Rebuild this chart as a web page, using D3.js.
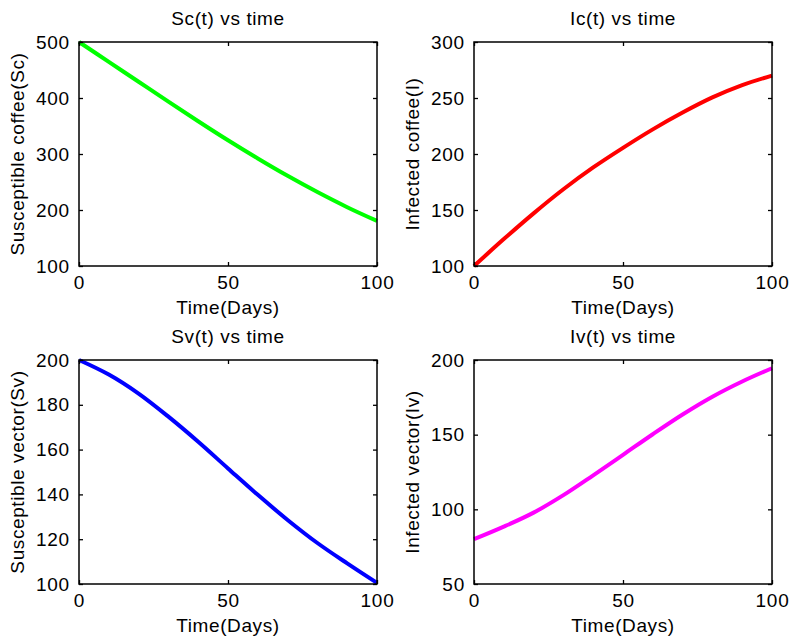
<!DOCTYPE html>
<html>
<head>
<meta charset="utf-8">
<script src="https://cdn.jsdelivr.net/npm/d3@7"></script>
<style>
  body { margin: 0; background: #fff; }
  svg text { font-family: "Liberation Sans", Arial, Helvetica, sans-serif; fill: #000; font-size: 19px; }
</style>
</head>
<body>
<script>
// time samples (days)
const days = [0, 10, 20, 30, 40, 50, 60, 70, 80, 90, 100];

// series
const scValues = [500, 464.5, 429, 393.5, 358.5, 324.5, 292, 261, 232, 205, 180.5];
const icValues = [100, 124, 147, 168.5, 188, 205.5, 222, 237, 250.5, 261.5, 270];
const svValues = [200, 193.5, 185, 174.7, 163.5, 151.6, 139.8, 128.6, 118.3, 109.2, 100.5];
const ivValues = [80, 88.4, 97.8, 109.5, 122.8, 136.5, 150.3, 163.5, 175.4, 185.6, 194.5];

// tick labels
const xTicks = [0, 50, 100];
const scTicks = [100, 200, 300, 400, 500];
const icTicks = [100, 150, 200, 250, 300];
const svTicks = [100, 120, 140, 160, 180, 200];
const ivTicks = [50, 100, 150, 200];

const panels = [
  {title: "Sc(t) vs time", ylabel: "Susceptible coffee(Sc)", values: scValues, ticks: scTicks, domain: [100, 500], color: "#00ff00", col: 0, row: 0},
  {title: "Ic(t) vs time", ylabel: "Infected coffee(I)", values: icValues, ticks: icTicks, domain: [100, 300], color: "#ff0000", col: 1, row: 0},
  {title: "Sv(t) vs time", ylabel: "Susceptible vector(Sv)", values: svValues, ticks: svTicks, domain: [100, 200], color: "#0000ff", col: 0, row: 1},
  {title: "Iv(t) vs time", ylabel: "Infected vector(Iv)", values: ivValues, ticks: ivTicks, domain: [50, 200], color: "#ff00ff", col: 1, row: 1}
];

const W = 792, H = 642;
const lefts = [79, 474], tops = [42, 360];
const pw = 298, ph = 224;

const svg = d3.select("body").append("svg")
  .attr("width", W)
  .attr("height", H);

panels.forEach(function(p) {
  let g = svg.append("g")
    .attr("transform", "translate(" + lefts[p.col] + "," + tops[p.row] + ")");

  let x = d3.scaleLinear().domain([0, 100]).range([0, pw]);
  let y = d3.scaleLinear().domain(p.domain).range([ph, 0]);

  // the curve
  let line = d3.line()
    .x((d, i) => x(days[i]))
    .y(d => y(d))
    .curve(d3.curveCatmullRom.alpha(0.5));

  g.append("path")
    .datum(p.values)
    .attr("d", line)
    .attr("fill", "none")
    .attr("stroke", p.color)
    .attr("stroke-width", 4);

  // axes, inward ticks, mirrored on the opposite sides
  let xb = g.append("g").attr("transform", "translate(0," + ph + ")")
    .call(d3.axisBottom(x).tickValues(xTicks).tickSizeInner(-4).tickSizeOuter(0).tickPadding(10));
  let xt = g.append("g")
    .call(d3.axisTop(x).tickValues(xTicks).tickSizeInner(-4).tickSizeOuter(0).tickFormat(""));
  let yl = g.append("g")
    .call(d3.axisLeft(y).tickValues(p.ticks).tickSizeInner(-4).tickSizeOuter(0).tickPadding(9));
  let yr = g.append("g").attr("transform", "translate(" + pw + ",0)")
    .call(d3.axisRight(y).tickValues(p.ticks).tickSizeInner(-4).tickSizeOuter(0).tickFormat(""));

  [xb, xt, yl, yr].forEach(function(a) {
    a.attr("font-size", null).attr("font-family", null);
    a.select(".domain").remove();
    a.selectAll(".tick line").attr("stroke", "#000").attr("stroke-width", 1.3);
    a.selectAll(".tick text").style("font-size", "19px").style("letter-spacing", "0.8px");
  });

  g.append("rect")
    .attr("width", pw)
    .attr("height", ph)
    .attr("fill", "none")
    .attr("stroke", "#000")
    .attr("stroke-width", 1.5);

  g.append("text")
    .attr("x", pw / 2)
    .attr("y", -17)
    .attr("text-anchor", "middle")
    .style("letter-spacing", "0.6px")
    .text(p.title);

  g.append("text")
    .attr("x", pw / 2)
    .attr("y", ph + 48)
    .attr("text-anchor", "middle")
    .style("letter-spacing", "0.6px")
    .text("Time(Days)");

  g.append("text")
    .attr("transform", "translate(-55," + (ph / 2) + ") rotate(-90)")
    .attr("text-anchor", "middle")
    .style("letter-spacing", "0.6px")
    .text(p.ylabel);
});
</script>
</body>
</html>
